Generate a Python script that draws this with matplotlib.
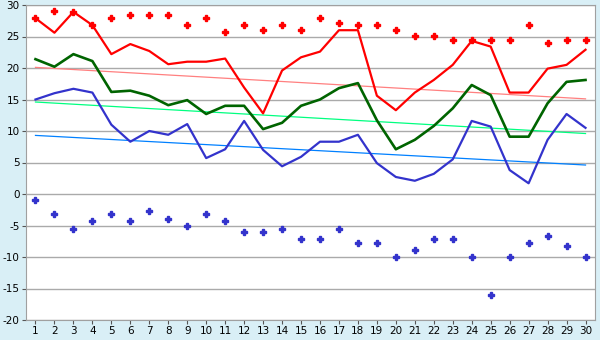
import numpy as np
import matplotlib
matplotlib.use('Agg')
import matplotlib.pyplot as plt

plt.rcParams['axes.unicode_minus'] = False

days = list(range(1, 31))

red_max = [27.9, 29.0, 28.9, 26.8, 27.9, 28.4, 28.4, 28.4, 26.8, 27.9,
           25.7, 26.8, 26.1, 26.8, 26.1, 27.9, 27.2, 26.8, 26.8, 26.1,
           25.1, 25.1, 24.4, 24.4, 24.4, 24.4, 26.8, 23.9, 24.4, 24.4]
red_line = [27.9, 25.6, 28.9, 26.8, 22.2, 23.8, 22.7, 20.6, 21.0, 21.0,
            21.5, 16.9, 12.8, 19.6, 21.7, 22.6, 26.0, 26.0, 15.6, 13.3,
            16.1, 18.1, 20.5, 24.3, 23.4, 16.1, 16.1, 19.9, 20.5, 22.9]
green_line = [21.4, 20.2, 22.2, 21.1, 16.2, 16.4, 15.6, 14.1, 14.9, 12.7,
              14.0, 14.0, 10.3, 11.3, 14.0, 15.0, 16.8, 17.6, 11.7, 7.1,
              8.6, 10.8, 13.6, 17.3, 15.7, 9.1, 9.1, 14.4, 17.8, 18.1]
blue_line = [15.0, 16.0, 16.7, 16.1, 11.0, 8.3, 10.0, 9.4, 11.1, 5.7,
             7.1, 11.6, 7.0, 4.4, 5.9, 8.3, 8.3, 9.4, 4.9, 2.7,
             2.1, 3.2, 5.5, 11.6, 10.7, 3.8, 1.7, 8.6, 12.7, 10.5]
blue_min = [-1.0, -3.2, -5.6, -4.3, -3.2, -4.3, -2.7, -3.9, -5.0, -3.2,
            -4.3, -6.1, -6.1, -5.6, -7.2, -7.2, -5.6, -7.8, -7.8, -10.0,
            -8.9, -7.2, -7.2, -10.0, -16.1, -10.0, -7.8, -6.7, -8.3, -10.0]

# trend lines, value at day 1 and day 30
trend_days = [1, 30]
red_trend = [20.1, 15.1]
green_trend = [14.6, 9.6]
blue_trend = [9.3, 4.6]

yticks = list(range(-20, 31, 5))

fig = plt.figure(figsize=(6, 3.4), dpi=100)
fig.patch.set_facecolor('#d9eff6')
ax = fig.add_axes([26/600, 1 - 320/340, 569/600, 315/340])
ax.set_facecolor('white')

for y in yticks:
    ax.axhline(y, color='#aaaaaa', lw=1, zorder=0)

ax.plot(trend_days, red_trend, color='#ff8080', lw=0.9)
ax.plot(trend_days, green_trend, color='#00ff80', lw=0.9)
ax.plot(trend_days, blue_trend, color='#0080ff', lw=0.9)

ax.plot(days, red_line, color='#ff0000', lw=1.6)
ax.plot(days, green_line, color='#006400', lw=1.9)
ax.plot(days, blue_line, color='#3333cc', lw=1.6)

ax.plot(days, red_max, ls='none', marker='P', ms=3.8, color='#ff0000', mec='#ff0000')
ax.plot(days, blue_min, ls='none', marker='P', ms=3.8, color='#3333cc', mec='#3333cc')

ax.set_xlim(0.5, 30.5)
ax.set_ylim(-20, 30)
ax.set_xticks(days)
ax.set_yticks(yticks)
ax.tick_params(axis='both', labelsize=7.5, length=3, color='#555555', pad=1.5)
for s in ax.spines.values():
    s.set_color('#a0a0a0')

fig.savefig('out.png', dpi=100, facecolor=fig.get_facecolor())
